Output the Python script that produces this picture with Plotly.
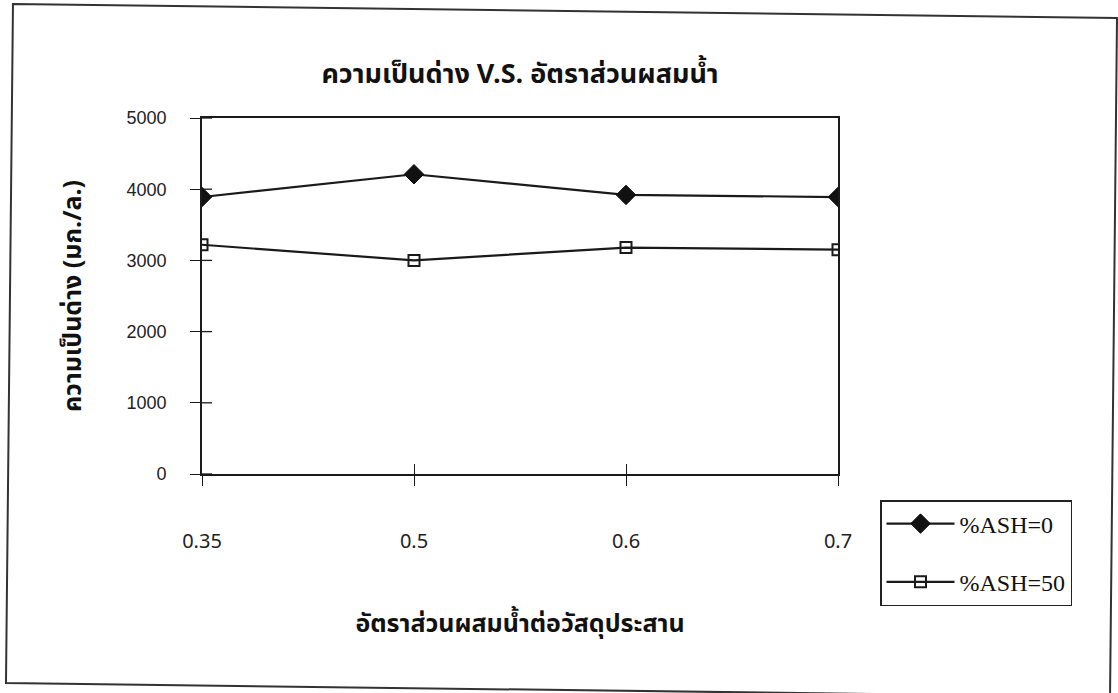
import plotly.graph_objects as go

# Water-to-binder ratios (category labels on the x axis)
ratios = ["0.35", "0.5", "0.6", "0.7"]

# Alkalinity (mg/L) for each fly-ash replacement level
alk_ash0 = [3890, 4210, 3920, 3890]
alk_ash50 = [3220, 3000, 3180, 3150]

y_ticks = [0, 1000, 2000, 3000, 4000, 5000]

THAI = "Noto Sans Thai, Loma, Garuda, Tahoma, sans-serif"
SERIF = "Liberation Serif, Times New Roman, serif"
SANS = "Liberation Sans, Arial, sans-serif"
HUMAN = "Noto Sans, Open Sans, sans-serif"
INK = "#1a1a1a"

fig = go.Figure()

fig.add_trace(go.Scatter(
    x=ratios, y=alk_ash0, name="%ASH=0", mode="lines+markers",
    legendgroup="a",
    line=dict(color=INK, width=2.2),
    marker=dict(symbol="diamond", size=15, color="#111111",
                line=dict(color="#111111", width=1)),
))
fig.add_trace(go.Scatter(
    x=ratios, y=alk_ash50, name="%ASH=50", mode="lines+markers",
    legendgroup="b",
    line=dict(color=INK, width=2.2),
    marker=dict(symbol="square-open", size=11, color=INK,
                line=dict(color=INK, width=2)),
))
# empty trace so the companion x tick axis gets drawn
fig.add_trace(go.Scatter(x=[], y=[], xaxis="x2", yaxis="y",
                         showlegend=False, hoverinfo="skip"))

# Page geometry of the plotting box (pixels) used to place the outer frame
L, R, T, B = 202, 838, 118, 474
W, H = 1118, 693


def px(xp, yp):
    return (xp - L) / (R - L), (B - yp) / (B - T)


corners = [px(13, 4), px(1117, 18), px(1110, 697), px(6, 683)]
frame_path = "M " + " L ".join(f"{x:.4f},{y:.4f}" for x, y in corners) + " Z"

shapes = [dict(type="path", xref="paper", yref="paper", path=frame_path,
               line=dict(color="#333333", width=2), layer="below")]
# inner half of the crossing y tick marks
tick_in = 10 / (R - L)
for v in y_ticks:
    shapes.append(dict(type="line", xref="paper", yref="y",
                       x0=0, x1=tick_in, y0=v, y1=v,
                       line=dict(color=INK, width=1.3)))

fig.update_layout(
    width=W, height=H,
    paper_bgcolor="white", plot_bgcolor="white",
    margin=dict(l=L, r=W - R, t=T, b=H - B),
    title=dict(text="<b>ความเป็นด่าง V.S. อัตราส่วนผสมน้ำ</b>",
               x=(L + R) / 2 / W, xanchor="center",
               y=1 - 74 / H, yanchor="middle",
               font=dict(family=THAI, size=27, color="#111111")),
    showlegend=True,
    legend=dict(x=(880 - L) / (R - L), xanchor="left",
                y=(B - 500) / (B - T), yanchor="top",
                bgcolor="white", bordercolor="#222222", borderwidth=1.5,
                font=dict(family=SERIF, size=24, color="#111111"),
                tracegroupgap=24, traceorder="grouped",
                itemwidth=68),
    shapes=shapes,
)

axis_style = dict(showgrid=False, zeroline=False,
                  ticklen=10, tickcolor=INK, tickwidth=1.3)

fig.update_layout(
    xaxis=dict(
        type="category", range=[0, 3], mirror=True, ticks="outside",
        showline=True, linecolor=INK, linewidth=1.8,
        tickfont=dict(family=HUMAN, size=20, color="#222222"),
        ticklabelstandoff=38,
        title=dict(text="<b>อัตราส่วนผสมน้ำต่อวัสดุประสาน</b>",
                   font=dict(family=THAI, size=25, color="#111111"),
                   standoff=62),
        **axis_style,
    ),
    yaxis=dict(
        range=[0, 5000], tickvals=y_ticks, mirror=True, ticks="outside",
        showline=True, linecolor=INK, linewidth=1.8,
        tickfont=dict(family=SANS, size=18, color="#222222"),
        ticklabelstandoff=20,
        title=dict(text="<b>ความเป็นด่าง (มก./ล.)</b>",
                   font=dict(family=THAI, size=25, color="#111111"),
                   standoff=38),
        **axis_style,
    ),
    # companion axis that draws the inner half of each crossing x tick mark
    xaxis2=dict(overlaying="x", range=[0, 3], tickvals=[0, 1, 2, 3],
                ticks="inside", showticklabels=False, side="bottom",
                anchor="y", showline=False, **axis_style),
)

fig.write_html("out.html")
